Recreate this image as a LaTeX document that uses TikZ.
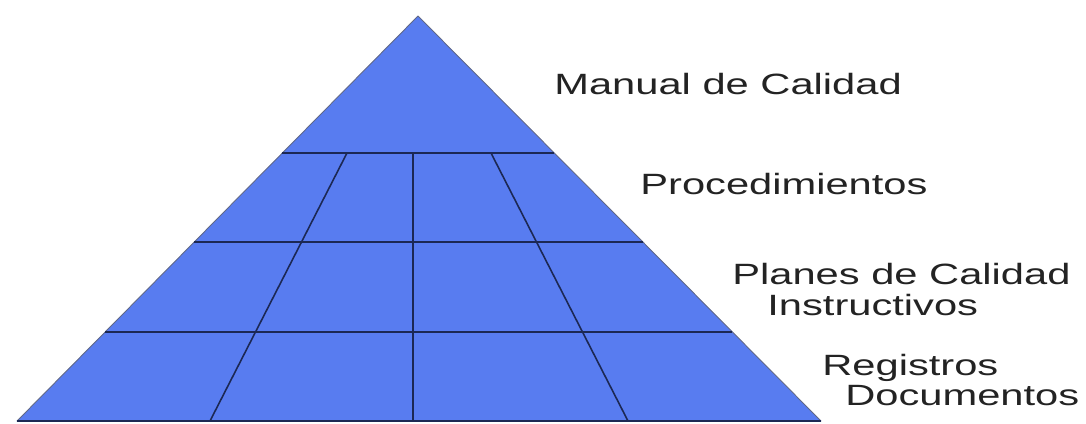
\documentclass[tikz,border=0pt]{standalone}
\usepackage{fontspec}
\setmainfont{Liberation Sans}
\usepackage{graphicx}
\usetikzlibrary{calc}
\definecolor{pyrblue}{RGB}{88,124,240}
\definecolor{pyrline}{RGB}{28,40,84}
\definecolor{labelgray}{RGB}{35,35,35}
\newcommand{\widetext}[1]{\scalebox{1.42}[1.0]{#1}}

\begin{document}
\begin{tikzpicture}[x=0.02cm,y=-0.02cm,line join=round,
    level/.style={anchor=base west,inner sep=0pt,text=labelgray,
      font=\fontsize{16.7}{20}\selectfont},
    gridline/.style={pyrline,line width=0.9pt}]
  \useasboundingbox (0,0) rectangle (1086,423);
  \coordinate (apex) at (418,16);
  \coordinate (baseL) at (17,421);
  \coordinate (baseR) at (821,421);
  \fill[pyrblue,draw=pyrline!70,line width=0.5pt] (apex) -- (baseL) -- (baseR) -- cycle;
  % floors of the pyramid
  \foreach \y in {153,242,332}
    \draw[gridline] ($(apex)!{(\y-16)/405}!(baseL)$) -- ($(apex)!{(\y-16)/405}!(baseR)$);
  \draw[gridline] (baseL) -- (baseR);
  % columns below the top
  \foreach \xa/\xb in {347/210,413/413,491/628}
    \draw[gridline] (\xa,153) -- (\xb,421);
  \node[level] (manual) at (554,94.5) {\widetext{Manual de Calidad}};
  \node[level] (proced) at (640,194.5) {\widetext{Procedimientos}};
  \node[level] (planes) at (732,284.5) {\widetext{Planes de Calidad}};
  \node[level] (instr) at (767,315) {\widetext{Instructivos}};
  \node[level] (regis) at (822,375) {\widetext{Registros}};
  \node[level] (docs) at (845,405) {\widetext{Documentos}};
\end{tikzpicture}
\end{document}
